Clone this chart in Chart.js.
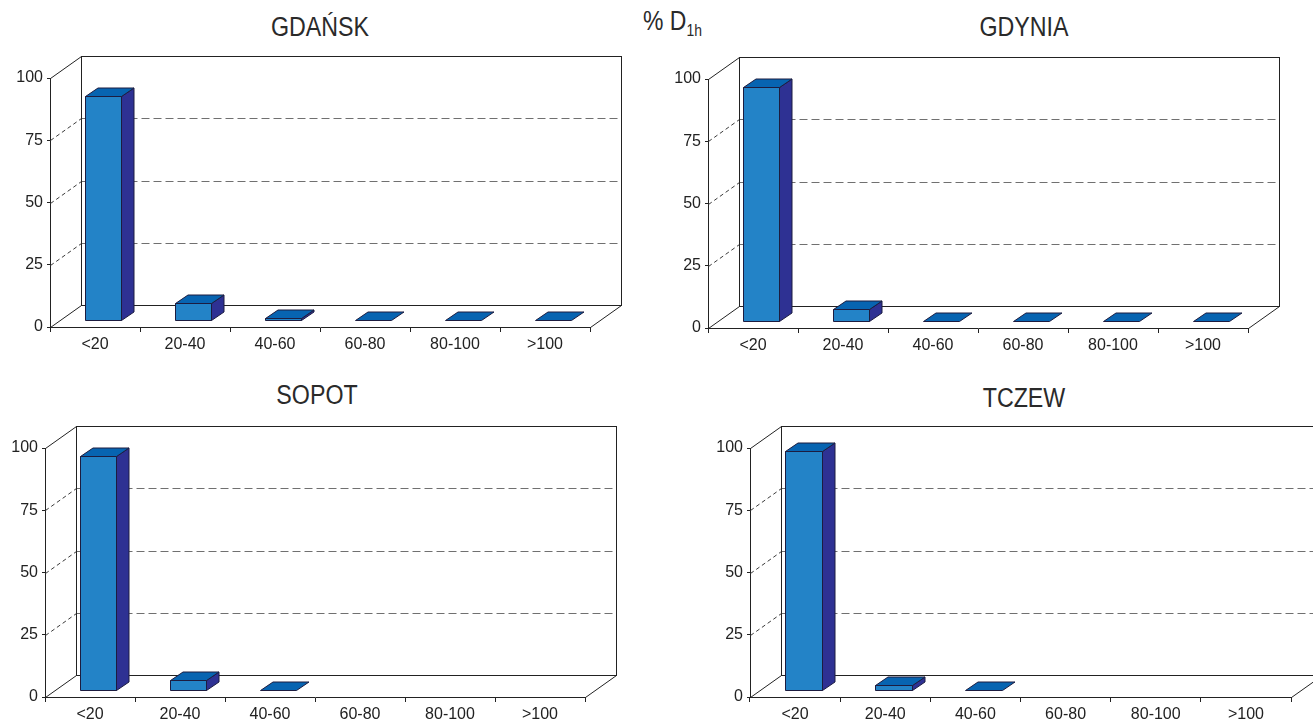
<!DOCTYPE html>
<html>
<head>
<meta charset="utf-8">
<script src="https://cdn.jsdelivr.net/npm/chart.js@4.4.1/dist/chart.umd.min.js"></script>
<style>
  html, body { margin: 0; padding: 0; background: #fff; width: 1313px; height: 720px; overflow: hidden; }
  canvas { position: absolute; }
  .title {
    position: absolute;
    font-family: "Liberation Sans", Arial, sans-serif;
    font-size: 27px;
    line-height: normal;
    color: #2a2a2a;
    white-space: nowrap;
    transform: translateX(-50%) scaleX(0.86);
  }
  .unit {
    position: absolute;
    font-family: "Liberation Sans", Arial, sans-serif;
    font-size: 28px;
    line-height: normal;
    color: #2a2a2a;
    white-space: nowrap;
    transform-origin: left top;
    transform: scaleX(0.82);
  }
  .unit sub { font-size: 17px; vertical-align: -6px; line-height: 0; }
</style>
</head>
<body>

<div class="unit" style="left:643px; top:5px;">% D<sub>1h</sub></div>
<div class="title" style="left:320px; top:12px;">GDAŃSK</div>
<div class="title" style="left:1024px; top:12px;">GDYNIA</div>
<div class="title" style="left:317px; top:380px;">SOPOT</div>
<div class="title" style="left:1024px; top:383px;">TCZEW</div>

<canvas id="cGdansk"></canvas>
<canvas id="cGdynia"></canvas>
<canvas id="cSopot"></canvas>
<canvas id="cTczew"></canvas>

<script>
// Concentration classes on the category axis
const categories = ['<20', '20-40', '40-60', '60-80', '80-100', '>100'];

// Share of hours (%) in each class, per station
const gdansk = [90, 7, 1, 0, 0, 0];
const gdynia = [94, 5, 0, 0, 0, 0];
const sopot  = [94, 4, 0, null, null, null];
const tczew  = [96, 2, 0, null, null, null];

// Value axis
const yMin = 0;
const yMax = 100;
const yStep = 25;

const FONT = '"Liberation Sans", Arial, sans-serif';
const INK = '#222222';
const GRID = '#707070';

// Perspective of the box: offset of the back wall from the front plane
const DX = 31, DY = -22;
// Bars sit inside the depth: front face offset and bar depth
const FX = 8, FY = -7;
const BX = 12.5, BY = -8.5;

const FRONT = '#2383c7';
const SIDE = '#2e3193';
const TOP = '#0764b1';
const EDGE = '#1c1c40';

function seg(ctx, x1, y1, x2, y2) {
  ctx.beginPath();
  ctx.moveTo(x1, y1);
  ctx.lineTo(x2, y2);
  ctx.stroke();
}

function poly(ctx, pts, fill) {
  ctx.beginPath();
  ctx.moveTo(pts[0][0], pts[0][1]);
  for (let i = 1; i < pts.length; i++) ctx.lineTo(pts[i][0], pts[i][1]);
  ctx.closePath();
  ctx.fillStyle = fill;
  ctx.fill();
  ctx.stroke();
}

// Draws the 3D frame (back wall, floor, level lines) and the 3D bars
const box3d = {
  id: 'box3d',
  beforeDatasetsDraw(chart) {
    const { ctx, chartArea, scales } = chart;
    const y = scales.y;
    const L = chartArea.left + 0.5, R = Math.round(chartArea.right) + 0.5;
    const T = Math.round(chartArea.top) + 0.5, B = Math.round(chartArea.bottom) + 0.5;
    ctx.save();
    ctx.lineWidth = 1;

    // dashed level lines on the back wall and their slanted lead-ins
    y.ticks.forEach(t => {
      if (t.value <= yMin || t.value >= yMax) return;
      const py = Math.round(y.getPixelForValue(t.value)) + 0.5;
      ctx.strokeStyle = '#3a3a3a';
      ctx.setLineDash([4, 3]);
      seg(ctx, L, py, L + DX, py + DY);
      ctx.strokeStyle = GRID;
      ctx.setLineDash([8, 4]);
      seg(ctx, L + DX, py + DY, R + DX, py + DY);
    });
    ctx.setLineDash([]);

    // back wall
    ctx.strokeStyle = INK;
    ctx.strokeRect(L + DX, T + DY, R - L, B - T);
    // slanted edges at top, floor left and floor right
    seg(ctx, L, T, L + DX, T + DY);
    seg(ctx, L, B, L + DX, B + DY);
    seg(ctx, R, B, R + DX, B + DY);
    ctx.restore();
  },
  afterDatasetsDraw(chart) {
    const { ctx } = chart;
    const meta = chart.getDatasetMeta(0);
    const data = chart.data.datasets[0].data;
    ctx.save();
    ctx.lineWidth = 1;
    ctx.strokeStyle = EDGE;
    ctx.lineJoin = 'round';
    meta.data.forEach((el, i) => {
      if (data[i] === null || data[i] === undefined) return;
      const p = el.getProps(['x', 'y', 'base', 'width'], true);
      const x1 = Math.round(p.x - p.width / 2 + FX) + 0.5;
      const x2 = Math.round(p.x + p.width / 2 + FX) + 0.5;
      const yt = Math.round(p.y + FY) + 0.5;
      const yb = Math.round(p.base + FY) + 0.5;
      if (yb - yt >= 1) {
        poly(ctx, [[x1, yt], [x2, yt], [x2, yb], [x1, yb]], FRONT);
        poly(ctx, [[x2, yt], [x2 + BX, yt + BY], [x2 + BX, yb + BY], [x2, yb]], SIDE);
      }
      poly(ctx, [[x1, yt], [x2, yt], [x2 + BX, yt + BY], [x1 + BX, yt + BY]], TOP);
    });
    ctx.restore();
  }
};

// Front-plane geometry of each panel: value axis x, pixel rows of 100 and 0, right end
function build(id, values, g) {
  const cv = document.getElementById(id);
  const left = g.axisX - 50;
  const top = g.y100 - 38;
  const plotH = g.y0 - g.y100;
  const w = Math.min(656, 1313 - left);
  const h = 330;
  cv.width = w;
  cv.height = h;
  cv.style.left = left + 'px';
  cv.style.top = top + 'px';
  const padR = w - 50 - (g.right - g.axisX);
  const xh = h - 38 - plotH;

  return new Chart(cv, {
    type: 'bar',
    data: {
      labels: categories,
      datasets: [{
        data: values,
        backgroundColor: 'rgba(0,0,0,0)',
        borderWidth: 0,
        barPercentage: 0.41,
        categoryPercentage: 1
      }]
    },
    options: {
      responsive: false,
      animation: false,
      devicePixelRatio: 1,
      layout: { padding: { left: 0, top: 38, right: padR, bottom: 0 } },
      plugins: { legend: { display: false }, tooltip: { enabled: false }, title: { display: false } },
      scales: {
        x: {
          offset: true,
          grid: { offset: true, drawOnChartArea: false, tickLength: 5, color: INK },
          border: { color: INK, width: 1 },
          ticks: { color: INK, font: { family: FONT, size: 16 }, padding: 3, maxRotation: 0, autoSkip: false },
          afterFit(s) { s.height = xh; }
        },
        y: {
          min: yMin,
          max: yMax,
          ticks: { stepSize: yStep, color: INK, font: { family: FONT, size: 16 }, padding: 4 },
          grid: { drawOnChartArea: false, tickLength: 3, color: INK },
          border: { color: INK, width: 1 },
          afterFit(s) { s.width = 50; }
        }
      }
    },
    plugins: [box3d]
  });
}

build('cGdansk', gdansk, { axisX: 50,  y100: 78,  y0: 327, right: 590 });
build('cGdynia', gdynia, { axisX: 708, y100: 79,  y0: 328, right: 1248 });
build('cSopot',  sopot,  { axisX: 45,  y100: 448, y0: 697, right: 585 });
build('cTczew',  tczew,  { axisX: 750, y100: 448, y0: 697, right: 1291 });
</script>
</body>
</html>
